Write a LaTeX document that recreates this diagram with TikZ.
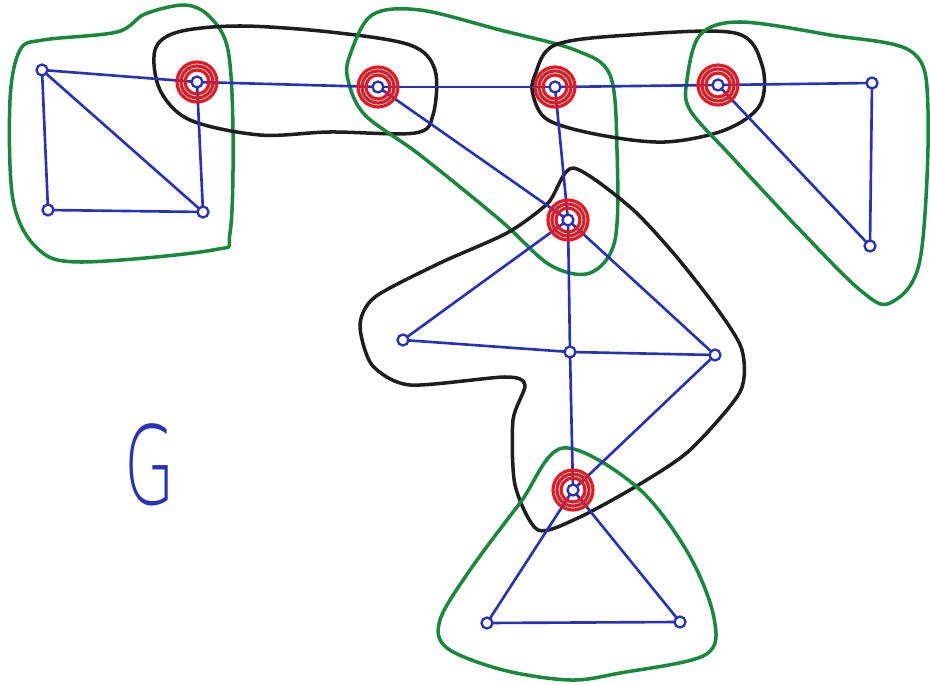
\documentclass[tikz,border=0pt]{standalone}
\usepackage{fontspec}
\newfontfamily\thinfont{DejaVu Sans ExtraLight}
\definecolor{penblue}{RGB}{40,50,185}
\definecolor{pengreen}{RGB}{25,135,60}
\definecolor{penred}{RGB}{228,25,35}
\definecolor{penblack}{RGB}{30,30,30}
\begin{document}
\begin{tikzpicture}[x=0.02cm,y=-0.02cm,
  vtx/.style={circle,draw=penblue,line width=1.3pt,inner sep=0pt,minimum size=0.22cm},
  edge/.style={draw=penblue,line width=1.5pt,line cap=round,shorten <=-1pt,shorten >=-1pt},
  gblob/.style={draw=pengreen,line width=2pt,line join=round},
  kblob/.style={draw=penblack,line width=2pt,line join=round},
  redring/.style={draw=penred,line width=1.8pt},
  glabel/.style={text=penblue,inner sep=0pt,font=\fontsize{62}{62}\selectfont\thinfont,xscale=0.6}]
\useasboundingbox (0,0) rectangle (930,685);

% vertices
\node[vtx] (a) at (42,70) {};
\node[vtx] (b) at (48,210) {};
\node[vtx] (c) at (203,212) {};
\node[vtx] (d) at (197,82) {};
\node[vtx] (e) at (378,87) {};
\node[vtx] (f) at (555,87) {};
\node[vtx] (h) at (718,85) {};
\node[vtx] (i) at (872,83) {};
\node[vtx] (j) at (870,246) {};
\node[vtx] (k) at (568,220) {};
\node[vtx] (l) at (403,340) {};
\node[vtx] (m) at (570,352) {};
\node[vtx] (n) at (715,355) {};
\node[vtx] (o) at (573,490) {};
\node[vtx] (p) at (487,623) {};
\node[vtx] (q) at (680,622) {};

% blocks
\draw[gblob] plot[smooth cycle,tension=0.55] coordinates {(20,50) (43,40) (117,32) (145,14) (185,5) (210,17) (228,50) (233,133) (230,233) (213,250) (80,262) (37,248) (13,200) (10,100)};
\draw[kblob] plot[smooth cycle,tension=0.55] coordinates {(155,50) (178,32) (240,26) (330,32) (410,45) (435,70) (433,115) (415,133) (330,132) (260,135) (190,120) (160,90)};
\draw[gblob] plot[smooth cycle,tension=0.55] coordinates {(350,55) (372,15) (420,10) (500,30) (575,50) (610,75) (617,150) (615,240) (590,273) (550,265) (500,220) (420,155) (365,115) (348,80)};
\draw[kblob] plot[smooth cycle,tension=0.55] coordinates {(535,75) (555,45) (630,35) (735,33) (762,65) (760,105) (725,130) (665,142) (600,135) (548,120) (533,95)};
\draw[gblob] plot[smooth cycle,tension=0.55] coordinates {(687,80) (700,35) (740,22) (830,35) (912,52) (928,110) (920,260) (890,303) (860,290) (800,230) (730,155) (690,110)};
\draw[kblob] plot[smooth cycle,tension=0.45] coordinates {(573,168) (630,207) (675,255) (718,310) (742,350) (740,392) (690,450) (640,484) (580,517) (538,530) (515,485) (513,420) (525,385) (505,377) (410,385) (372,365) (360,325) (375,297) (440,263) (507,233) (548,203)};
\draw[gblob] plot[smooth cycle,tension=0.55] coordinates {(563,448) (637,487) (688,553) (714,618) (705,655) (620,673) (570,680) (503,670) (447,648) (440,620) (470,570) (520,503)};

% edges
\draw[edge] (a) -- (d);
\draw[edge] (a) -- (b);
\draw[edge] (a) -- (c);
\draw[edge] (b) -- (c);
\draw[edge] (d) -- (c);
\draw[edge] (d) -- (e);
\draw[edge] (e) -- (f);
\draw[edge] (f) -- (h);
\draw[edge] (h) -- (i);
\draw[edge] (h) -- (j);
\draw[edge] (i) -- (j);
\draw[edge] (e) -- (k);
\draw[edge] (f) -- (k);
\draw[edge] (k) -- (l);
\draw[edge] (k) -- (m);
\draw[edge] (k) -- (n);
\draw[edge] (l) -- (m);
\draw[edge] (m) -- (n);
\draw[edge] (m) -- (o);
\draw[edge] (n) -- (o);
\draw[edge] (o) -- (p);
\draw[edge] (o) -- (q);
\draw[edge] (p) -- (q);

% cut vertices
\foreach \v in {d,e,f,h,k,o}{
  \draw[redring] (\v) circle[radius=0.24cm];
  \draw[redring] (\v) circle[radius=0.32cm];
  \draw[redring] (\v) circle[radius=0.40cm];
}

\node[glabel] (g) at (150,465) {G};
\end{tikzpicture}
\end{document}
